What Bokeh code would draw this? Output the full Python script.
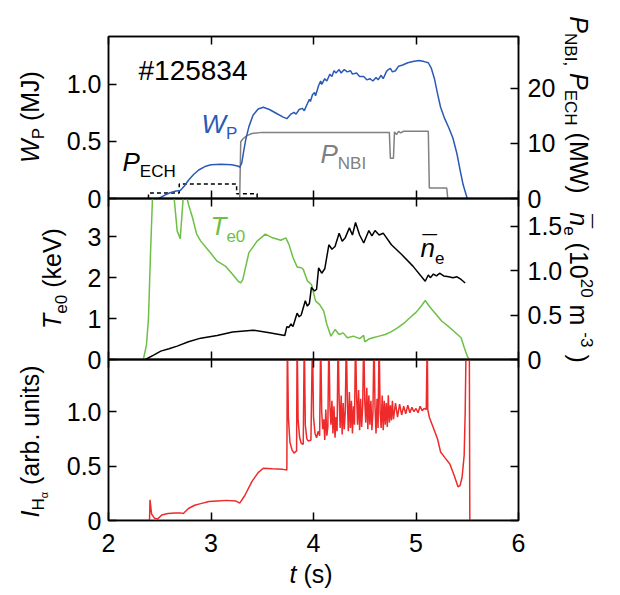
import math
from bokeh.plotting import figure
from bokeh.models import Range1d, LinearAxis, FixedTicker, Label
from bokeh.layouts import column
from bokeh.embed import file_html
from bokeh.resources import INLINE

# ---------------- data ----------------
wp_pts = [(2.49,0.00),(2.55,0.03),(2.60,0.05),(2.66,0.065),(2.70,0.07),(2.74,0.11),(2.78,0.16),
          (2.83,0.21),(2.88,0.25),(2.94,0.28),(3.00,0.295),(3.10,0.30),(3.20,0.295),(3.26,0.285),
          (3.28,0.275),(3.30,0.31),(3.32,0.42),(3.34,0.52),(3.37,0.63),(3.41,0.73),(3.46,0.785),
          (3.51,0.80),(3.57,0.78),(3.64,0.745),(3.70,0.715),(3.74,0.70),(3.78,0.74),(3.81,0.755),
          (3.83,0.74),(3.86,0.78),(3.89,0.79),(3.91,0.77),(3.94,0.83),(3.96,0.87),(3.97,0.85),
          (3.99,0.91),(4.01,0.93),(4.02,0.90),(4.05,0.99),(4.07,1.03),(4.08,1.00),(4.11,1.05),
          (4.13,1.03),(4.16,1.09),(4.18,1.07),(4.20,1.12),(4.22,1.10),(4.25,1.13),(4.27,1.10),
          (4.30,1.13),(4.33,1.11),(4.36,1.12),(4.38,1.09),(4.42,1.10),(4.45,1.07),(4.49,1.07),
          (4.52,1.04),(4.55,1.05),(4.58,1.03),(4.61,1.06),(4.63,1.04),(4.66,1.08),(4.68,1.05),
          (4.71,1.11),(4.73,1.13),(4.75,1.14),(4.77,1.11),(4.80,1.12),(4.83,1.16),(4.87,1.17),
          (4.92,1.19),(4.97,1.20),(5.03,1.21),(5.08,1.20),(5.12,1.19),(5.15,1.14),(5.18,1.05),
          (5.21,0.92),(5.24,0.80),(5.28,0.70),(5.32,0.62),(5.36,0.53),(5.40,0.39),(5.43,0.25),
          (5.46,0.12),(5.50,0.00)]
wp_t = [a for a, b in wp_pts]
wp_v = [b for a, b in wp_pts]

nbi_t = [3.28, 3.29, 3.31, 3.35, 3.40, 3.50, 4.74, 4.75, 4.78, 4.79, 4.81, 4.83, 4.85, 4.88, 5.12, 5.13, 5.30, 5.31]
nbi_v = [0.0, 10.3, 10.8, 11.4, 11.8, 12.0, 12.0, 7.3, 7.3, 12.1, 11.6, 12.2, 11.9, 12.2, 12.2, 1.9, 1.9, 0.0]

ech_t = [2.39, 2.39, 2.69, 2.69, 3.25, 3.25, 3.45, 3.45]
ech_v = [0.0, 1.0, 1.0, 2.65, 2.65, 0.85, 0.85, 0.0]

te_t = [2.34, 2.37, 2.39, 2.41, 2.43, 2.50, 2.60, 2.64, 2.67, 2.70, 2.71, 2.73, 2.76, 2.78, 2.82,
        2.86, 2.90, 2.98, 3.06, 3.14, 3.21, 3.27, 3.29, 3.31, 3.37, 3.45, 3.53, 3.60, 3.68, 3.73,
        3.76, 3.80, 3.84, 3.88, 3.90, 3.94, 3.98, 4.02, 4.06, 4.10, 4.13, 4.17, 4.21, 4.25, 4.29,
        4.33, 4.39, 4.45, 4.49, 4.50, 4.54, 4.58, 4.64, 4.70, 4.76, 4.82, 4.88, 4.94, 5.00, 5.05,
        5.09, 5.13, 5.17, 5.21, 5.25, 5.31, 5.37, 5.44, 5.47, 5.50, 5.52]
te_v = [0.0, 0.35, 1.0, 2.6, 4.0, 4.2, 4.1, 3.95, 3.14, 2.95, 3.3, 4.0, 4.0, 3.79, 3.46,
        3.06, 2.89, 2.65, 2.40, 2.28, 2.08, 1.90, 1.87, 1.95, 2.61, 2.89, 3.06, 2.97, 2.91, 2.97,
        2.81, 2.49, 2.26, 2.24, 2.20, 1.92, 1.83, 1.43, 1.34, 1.18, 0.86, 0.57, 0.73, 0.61, 0.65,
        0.53, 0.57, 0.51, 0.59, 0.43, 0.50, 0.53, 0.57, 0.61, 0.68, 0.77, 0.88, 1.02, 1.15, 1.30,
        1.44, 1.30, 1.18, 1.06, 0.94, 0.82, 0.69, 0.53, 0.30, 0.08, 0.0]

ne_t = [2.36, 2.44, 2.51, 2.59, 2.67, 2.78, 2.90, 3.06, 3.21, 3.41, 3.57, 3.72, 3.74, 3.76, 3.78,
        3.80, 3.84, 3.86, 3.88, 3.92, 3.94, 3.96, 3.98, 4.01, 4.03, 4.05, 4.08, 4.11, 4.15, 4.18,
        4.21, 4.25, 4.28, 4.31, 4.35, 4.38, 4.41, 4.45, 4.49, 4.54, 4.57, 4.60, 4.64, 4.68, 4.76,
        4.86, 4.97, 5.09, 5.12, 5.14, 5.17, 5.20, 5.23, 5.27, 5.32, 5.36, 5.40, 5.44, 5.48]
ne_v = [0.0, 0.05, 0.094, 0.12, 0.15, 0.20, 0.24, 0.27, 0.31, 0.33, 0.30, 0.27, 0.37, 0.36, 0.40,
        0.37, 0.52, 0.48, 0.50, 0.66, 0.60, 0.63, 0.81, 0.77, 0.79, 1.03, 0.97, 1.02, 1.29, 1.24,
        1.27, 1.42, 1.33, 1.37, 1.48, 1.40, 1.54, 1.40, 1.31, 1.45, 1.39, 1.45, 1.40, 1.42, 1.29,
        1.18, 1.05, 0.88, 0.95, 0.92, 0.96, 0.94, 0.97, 0.94, 0.93, 0.92, 0.93, 0.90, 0.86]

ha_pts = [(2.00,0.0),(2.40,0.0),(2.405,0.19),(2.42,0.06),(2.45,0.02),(2.48,0.015),(2.52,0.05),
          (2.58,0.065),(2.65,0.07),(2.70,0.07),(2.73,0.065),(2.78,0.11),(2.84,0.14),(2.90,0.155),
          (2.98,0.175),(3.06,0.18),(3.15,0.185),(3.24,0.18),(3.28,0.16),(3.33,0.23),(3.40,0.36),
          (3.46,0.44),(3.51,0.48),(3.60,0.475),(3.70,0.47),(3.74,0.465),
          (3.745,1.7),(3.755,0.95),(3.77,0.72),(3.79,0.65),(3.81,0.62),(3.835,0.64),
          (3.84,1.7),(3.85,0.92),(3.865,0.76),(3.88,0.71),(3.90,0.70),
          (3.91,1.7),(3.92,0.88),(3.935,0.75),(3.95,0.73),(3.975,0.74),
          (3.99,1.7),(4.00,0.95),(4.015,0.80),(4.03,0.76),(4.045,0.82),(4.06,0.78),
          (4.07,1.7),(4.08,1.00),(4.09,0.84),(4.10,0.93),(4.11,0.74),(4.12,1.02),(4.13,0.78),(4.14,0.86),
          (4.15,1.7),(4.16,1.05),(4.17,0.88),(4.18,1.10),(4.19,0.80),(4.20,1.05),(4.21,0.76),(4.22,0.95),(4.23,0.82),
          (4.24,1.7),(4.25,1.12),(4.26,0.85),(4.27,1.15),(4.28,0.79),(4.29,1.08),(4.30,0.84),(4.31,1.00),
          (4.32,1.7),(4.33,1.10),(4.34,0.82),(4.35,1.18),(4.36,0.85),(4.37,1.10),(4.38,0.80),(4.39,1.05),(4.40,0.88),
          (4.41,1.7),(4.42,1.15),(4.43,0.88),(4.44,1.20),(4.45,0.83),(4.46,1.12),(4.47,0.86),(4.48,1.05),
          (4.49,1.7),(4.50,1.10),(4.51,0.90),(4.52,1.22),(4.53,0.84),(4.54,1.15),(4.55,0.88),(4.56,1.10),(4.57,0.83),(4.58,1.00),
          (4.59,1.7),(4.60,1.05),(4.61,0.80),(4.62,1.12),(4.63,0.85),
          (4.64,1.7),(4.65,1.00),(4.66,0.85),(4.67,1.15),(4.68,0.83),(4.69,1.10),(4.70,0.88),(4.71,1.08),
          (4.72,0.86),(4.73,1.15),(4.74,0.90),(4.75,1.06),(4.76,0.92),(4.77,1.10),(4.78,0.93),(4.80,1.08),
          (4.82,0.95),(4.84,1.07),(4.86,0.97),(4.88,1.05),(4.90,0.98),(4.92,1.06),(4.94,0.99),(4.96,1.04),
          (4.98,1.00),(5.00,1.03),(5.02,0.99),(5.04,1.05),(5.06,1.01),(5.08,1.03),(5.10,1.02),
          (5.11,1.7),(5.115,1.02),(5.13,0.95),(5.17,0.85),(5.21,0.75),(5.24,0.63),(5.28,0.58),(5.33,0.52),
          (5.37,0.42),(5.41,0.31),(5.43,0.32),(5.45,0.40),(5.47,0.60),(5.48,1.00),(5.49,1.7),(5.52,1.7),
          (5.525,0.0),(6.00,0.0)]
ha_t = [a for a, b in ha_pts]
ha_v = [b for a, b in ha_pts]

x_ticks = [2, 3, 4, 5, 6]
wp_ticks = [0, 0.5, 1.0]
p_ticks = [0, 10, 20]
te_ticks = [0, 1, 2, 3]
ne_ticks = [0, 0.5, 1.0, 1.5]
ha_ticks = [0, 0.5, 1.0]

# ---------------- styling helpers ----------------
FONT = "Liberation Sans"
TICK_PX = "25px"
LAB = 25
SUB = 17
W_FIG, BL, BR = 615, 108, 97
FL = 107      # intended page x of the frame's left edge
H_ALL = 592   # total page height of the stacked layout
MID = 0.3465  # distance (em) from the text-box middle to the baseline

WID = {' ': 278, '#': 556, '(': 333, ')': 333, ',': 278, '-': 333, '.': 278,
       'B': 667, 'C': 722, 'E': 667, 'H': 722, 'I': 278, 'J': 500, 'M': 833, 'N': 722,
       'P': 667, 'T': 611, 'V': 667, 'W': 944, 'a': 556, 'b': 556, 'e': 556, 'i': 222,
       'k': 500, 'm': 833, 'n': 556, 'r': 333, 's': 500, 't': 278, 'u': 556, 'v': 500,
       '\u03b1': 578, '\u00af': 552}


def tw(s, size):
    return sum(WID.get(c, 556) for c in s) * size / 1000.0


def rich(p, fl, fb, X, Y, pieces, angle=0.0, center=False, color="black"):
    """(X, Y): page position of the baseline start (or of the centre when center=True).
    pieces: (text, size, style, shift_up[, along_shift[, advance]]).
    Every piece is anchored at its own centre, so rotation cannot move it."""
    ca, sa = math.cos(angle), math.sin(angle)
    d = (ca, sa)
    u = (-sa, ca)
    norm = []
    for pc in pieces:
        pc = list(pc)
        if len(pc) < 5:
            pc.append(0)
        if len(pc) < 6:
            pc.append(None)
        norm.append(pc)
    ws = [tw(t, s) if adv is None else adv for t, s, _, _, _, adv in norm]
    total = sum(ws)
    pos = 0.0
    ox0, oy0 = X - fl, fb - Y
    if center:
        pos = -total / 2
    for (t, s, st, sh, al, adv), w in zip(norm, ws):
        core = t.strip(" ")
        lead = tw(t[:len(t) - len(t.lstrip(" "))], s)
        cw = tw(core, s)
        along = pos + lead + cw / 2 + al
        up = sh + MID * s
        p.add_layout(Label(x=p.x_range.start, y=p.y_range.start,
                           x_offset=ox0 + d[0] * along + u[0] * up,
                           y_offset=oy0 + d[1] * along + u[1] * up,
                           text=core, angle=angle, text_font=FONT, text_font_size=f"{s}px",
                           text_font_style=st, text_color=color, text_baseline="middle",
                           text_align="center"))
        pos += w


def style_axis(ax, ticks, overrides=None, show=True, standoff=7):
    ax.ticker = FixedTicker(ticks=ticks)
    ax.minor_tick_line_color = None
    ax.major_tick_in = 8
    ax.major_tick_out = 0
    ax.major_tick_line_width = 1.5
    ax.major_tick_line_color = "black"
    ax.axis_line_width = 1.5
    ax.axis_line_color = "black"
    ax.axis_label = None
    if show:
        ax.major_label_text_font = FONT
        ax.major_label_text_font_size = TICK_PX
        ax.major_label_text_color = "black"
        ax.major_label_standoff = standoff
        if overrides:
            ax.major_label_overrides = overrides
    else:
        ax.major_label_text_font_size = "0px"
        ax.major_label_text_color = None
        ax.major_label_standoff = 0


def make_fig(height, btop, bbot, y_end, show_x, margin_top):
    p = figure(width=W_FIG, height=height, x_range=Range1d(2, 6), y_range=Range1d(0, y_end),
               output_backend="svg", toolbar_location=None,
               min_border_left=BL, min_border_right=BR, min_border_top=btop, min_border_bottom=bbot,
               margin=(margin_top, 0, 0, 0))
    p.grid.visible = False
    p.background_fill_alpha = 0
    p.border_fill_alpha = 0
    p.outline_line_color = "black"
    p.outline_line_width = 1.5
    style_axis(p.xaxis[0], x_ticks, show=show_x, standoff=13)
    top_ax = LinearAxis()
    style_axis(top_ax, x_ticks, show=False)
    p.add_layout(top_ax, "above")
    return p


lab0 = {0: "0", 0.5: "0.5", 1: "1.0", 1.5: "1.5"}

# ---------------- top panel ----------------
p1 = make_fig(218, 36, 20, 1.42, False, 0)
style_axis(p1.yaxis[0], wp_ticks, lab0)
p1.extra_y_ranges = {"pw": Range1d(0, 29.4)}
ax = LinearAxis(y_range_name="pw")
style_axis(ax, p_ticks, {0: "0", 10: "10", 20: "20"}, standoff=9)
p1.add_layout(ax, "right")
p1.line(ech_t, ech_v, y_range_name="pw", line_color="black", line_width=1.5, line_dash="4 3")
p1.line(nbi_t, nbi_v, y_range_name="pw", line_color="#808080", line_width=1.5)
p1.line(wp_t, wp_v, line_color="#2a59b7", line_width=1.5)
FB1 = 199
rich(p1, FL, FB1, 137, 81, [("#125834", 28, "normal", 0)])
rich(p1, FL, FB1, 200, 134, [("W", 26, "italic", 0), ("P", SUB, "normal", -6)], color="#2a59b7")
rich(p1, FL, FB1, 121, 172, [("P", 26, "italic", 0), ("ECH", SUB, "normal", -6)])
rich(p1, FL, FB1, 319, 164, [("P", 26, "italic", 0), ("NBI", SUB, "normal", -6)], color="#808080")

# ---------------- middle panel ----------------
p2 = make_fig(201, 20, 20, 3.93, False, -40)
style_axis(p2.yaxis[0], te_ticks, {0: "0", 1: "1", 2: "2", 3: "3"})
p2.extra_y_ranges = {"ne": Range1d(0, 1.81)}
ax = LinearAxis(y_range_name="ne")
style_axis(ax, ne_ticks, lab0, standoff=9)
p2.add_layout(ax, "right")
p2.line(te_t, te_v, line_color="#6dbf45", line_width=1.5)
p2.line(ne_t, ne_v, y_range_name="ne", line_color="black", line_width=1.5)
FB2 = 360
rich(p2, FL, FB2, 209, 236, [("T", 26, "italic", 0), ("e0", SUB, "normal", -6)], color="#6dbf45")
rich(p2, FL, FB2, 419, 258, [("n", 26, "italic", 0, 0, 0), ("\u00af", 26, "normal", 3, 2, tw("n", 26)),
                             ("e", SUB, "normal", -6)])

# ---------------- bottom panel ----------------
p3 = make_fig(253, 20, 72, 1.48, True, -40)
style_axis(p3.yaxis[0], ha_ticks, lab0)
ax = LinearAxis()
style_axis(ax, ha_ticks, show=False)
p3.add_layout(ax, "right")
p3.line(ha_t, ha_v, line_color="#ee2a2a", line_width=1.5)

# ---------------- transparent overlay for the texts outside the frames ----------------
ov = figure(width=W_FIG, height=H_ALL, x_range=Range1d(0, W_FIG), y_range=Range1d(0, H_ALL),
            output_backend="svg", toolbar_location=None, x_axis_location=None, y_axis_location=None,
            min_border=0, margin=(-H_ALL, 0, 0, 0))
ov.frame_align = False
ov.grid.visible = False
ov.outline_line_color = None
ov.background_fill_alpha = 0
ov.border_fill_alpha = 0
rich(ov, 0, H_ALL, 38, 116.5, [("W", LAB, "italic", 0), ("P", SUB, "normal", -6), (" (MJ)", LAB, "normal", 0)],
     angle=math.pi / 2, center=True)
rich(ov, 0, H_ALL, 570, 104.5, [("P", LAB, "italic", 0), ("NBI,", SUB, "normal", -6), (" ", LAB, "normal", 0),
                                ("P", LAB, "italic", 0), ("ECH", SUB, "normal", -6), (" (MW)", LAB, "normal", 0)],
     angle=-math.pi / 2, center=True)
rich(ov, 0, H_ALL, 60, 278, [("T", LAB, "italic", 0), ("e0", SUB, "normal", -6), (" (keV)", LAB, "normal", 0)],
     angle=math.pi / 2, center=True)
rich(ov, 0, H_ALL, 570, 287, [("n", LAB, "italic", 0, 0, 0), ("\u00af", LAB, "normal", 3, 2, tw("n", LAB)),
                              ("e", SUB, "normal", -6), (" (10", LAB, "normal", 0),
                              ("20", SUB, "normal", 11), (" m ", LAB, "normal", 0), ("-3", SUB, "normal", 11),
                              (" )", LAB, "normal", 0)],
     angle=-math.pi / 2, center=True)
rich(ov, 0, H_ALL, 38, 441, [("I", LAB, "italic", 0), ("H", SUB, "normal", -6), ("\u03b1", 11, "normal", -9),
                             (" (arb. units)", LAB, "normal", 0)],
     angle=math.pi / 2, center=True)
rich(ov, 0, H_ALL, 289, 582, [("t", LAB, "italic", 0), (" (s)", LAB, "normal", 0)])

layout = column(p1, p2, p3, ov)
open("out.html", "w").write(file_html(layout, INLINE))
